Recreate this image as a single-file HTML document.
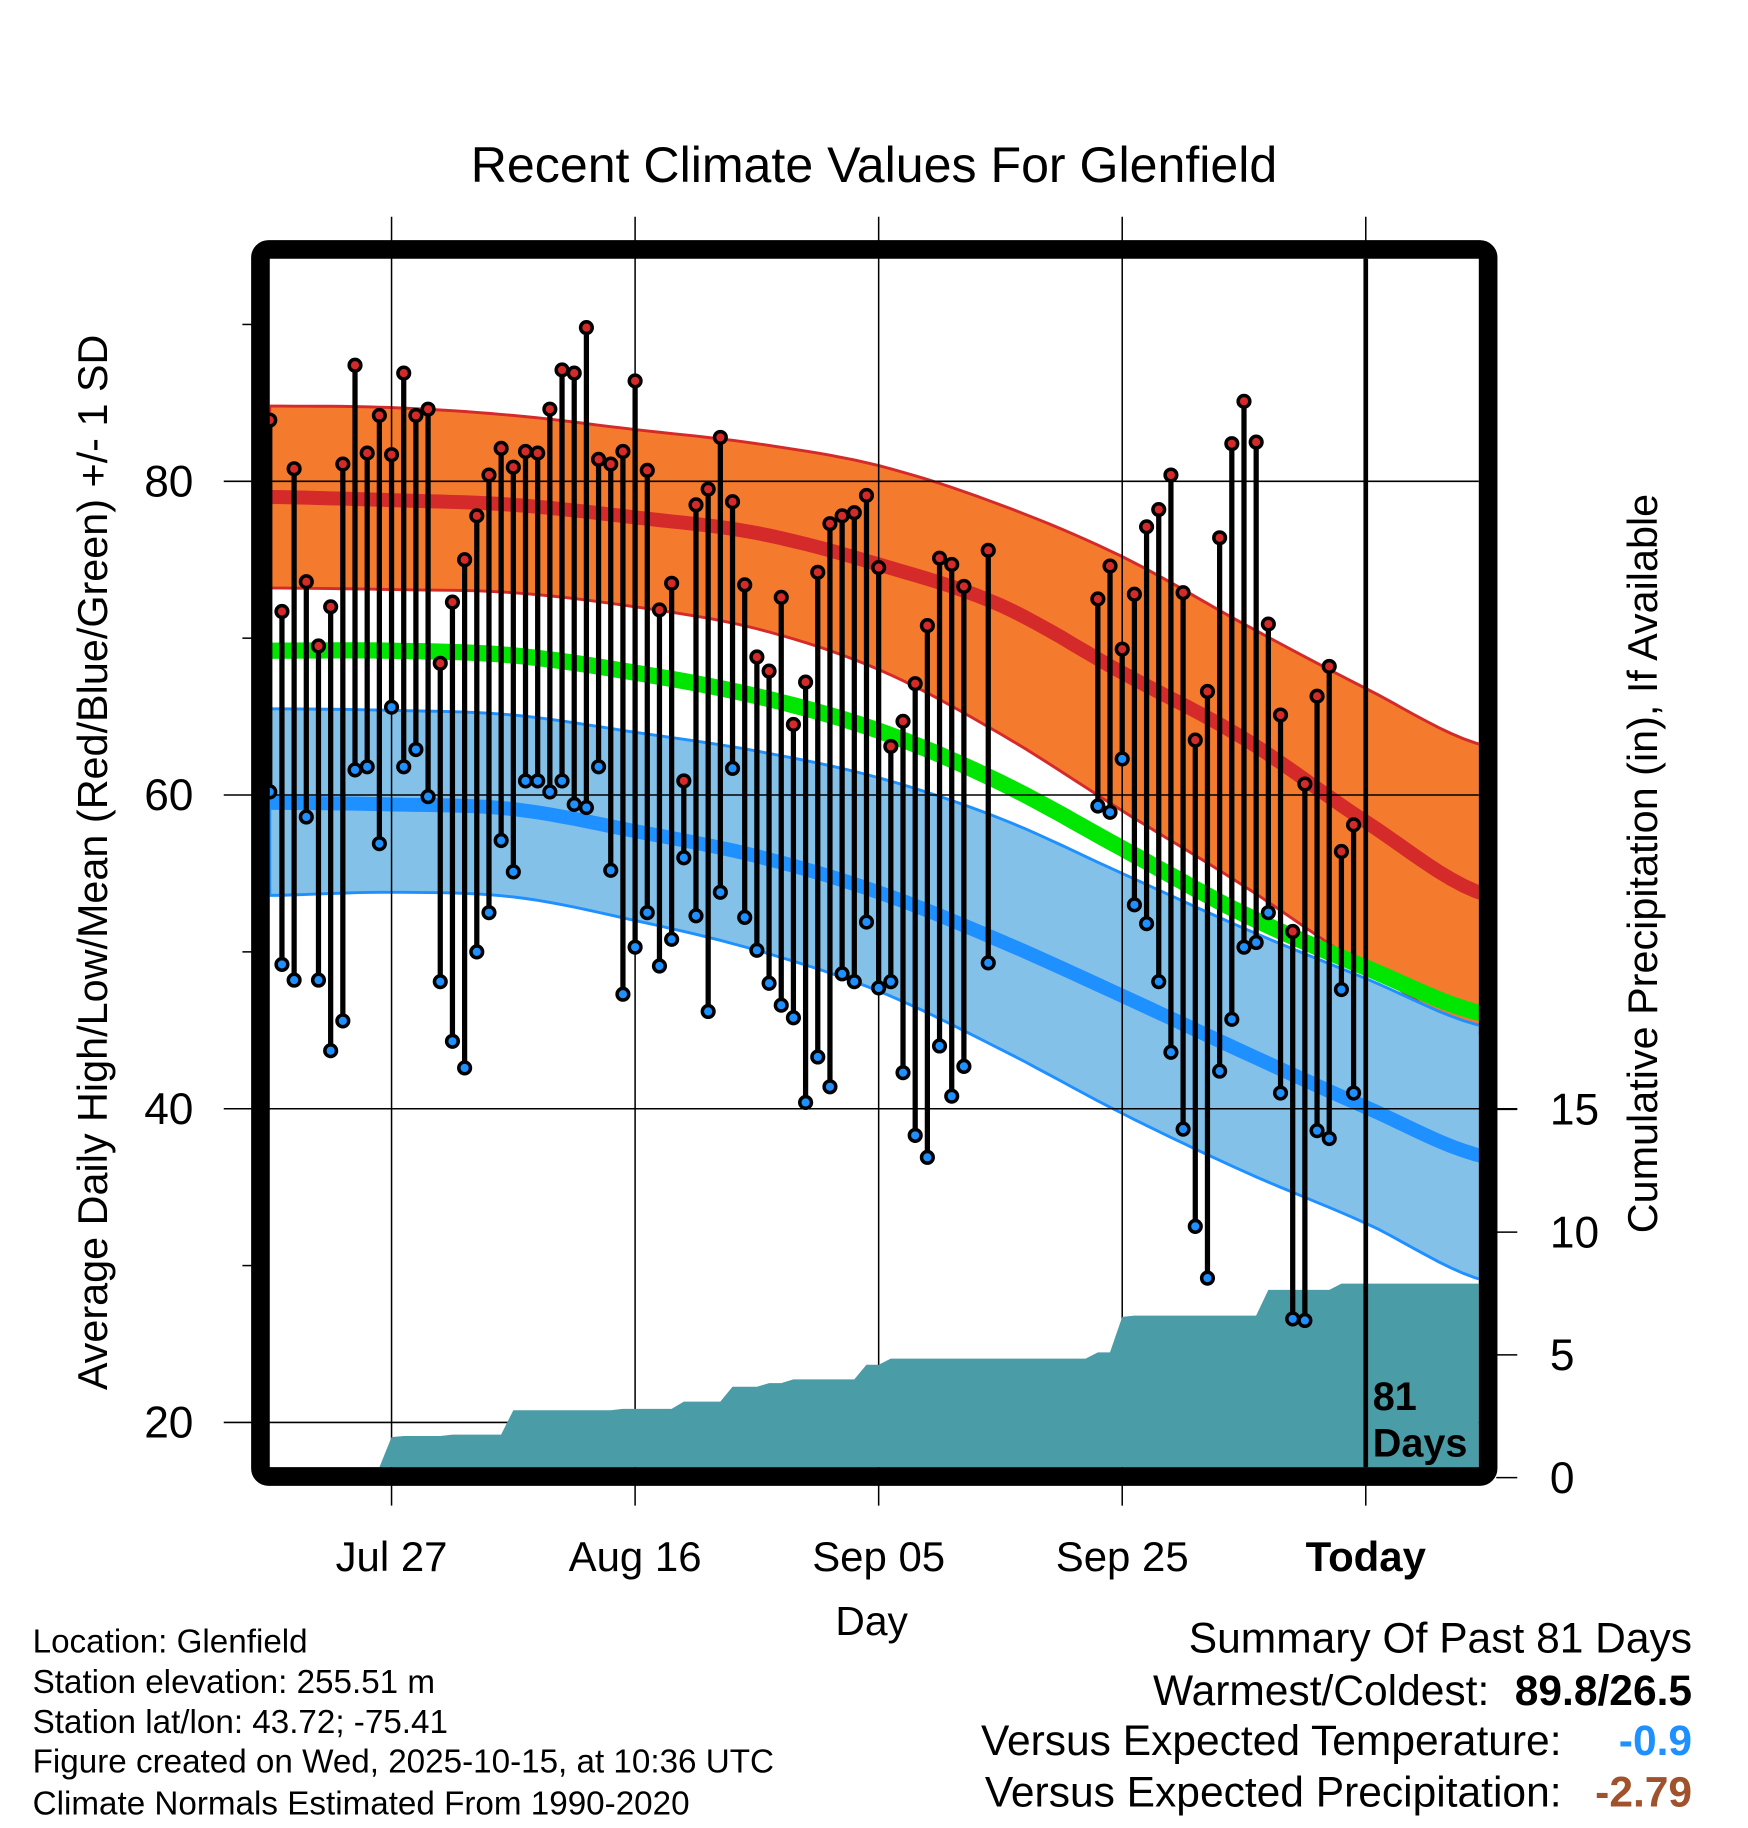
<!DOCTYPE html>
<html><head><meta charset="utf-8"><style>
html,body{margin:0;padding:0;background:#fff;}
svg{display:block;font-family:"Liberation Sans",Arial,sans-serif;}
</style></head><body>
<svg id="chart" xmlns="http://www.w3.org/2000/svg" width="1748" height="1828" viewBox="0 0 1500 1568.6">
<rect x="0" y="0" width="1500" height="1568.6" fill="#fff"/>
<g id="bands"></g>
<g id="grid"></g>
<g id="precip"></g>
<g id="marks"></g>
<rect x="223.5" y="214" width="1053.5" height="1053" rx="7" fill="none" stroke="#000" stroke-width="16"/>
<g id="axes"></g>
<text x="750" y="156" font-size="43" text-anchor="middle">Recent Climate Values For Glenfield</text>
<text transform="translate(92,740) rotate(-90)" font-size="35.5" text-anchor="middle">Average Daily High/Low/Mean (Red/Blue/Green) +/- 1 SD</text>
<text transform="translate(1422,741) rotate(-90)" font-size="35.5" text-anchor="middle">Cumulative Precipitation (in), If Available</text>
<text x="748" y="1403" font-size="35" text-anchor="middle">Day</text>
<text x="1178" y="1210" font-size="34" font-weight="bold">81</text>
<text x="1178" y="1250" font-size="34" font-weight="bold">Days</text>
<g font-size="28.5">
<text x="28" y="1418">Location: Glenfield</text>
<text x="28" y="1453">Station elevation: 255.51 m</text>
<text x="28" y="1487">Station lat/lon: 43.72; -75.41</text>
<text x="28" y="1521">Figure created on Wed, 2025-10-15, at 10:36 UTC</text>
<text x="28" y="1557">Climate Normals Estimated From 1990-2020</text>
</g>
<g font-size="36.5">
<text x="1452" y="1418" text-anchor="end">Summary Of Past 81 Days</text>
<text x="1278" y="1463" text-anchor="end">Warmest/Coldest:</text>
<text x="1452" y="1463" text-anchor="end" font-weight="bold">89.8/26.5</text>
<text x="1340" y="1506" text-anchor="end">Versus Expected Temperature:</text>
<text x="1452" y="1506" text-anchor="end" font-weight="bold" fill="#1e90ff">-0.9</text>
<text x="1340" y="1550" text-anchor="end">Versus Expected Precipitation:</text>
<text x="1452" y="1550" text-anchor="end" font-weight="bold" fill="#a0522d">-2.79</text>
</g>
</svg>
<script>
const highs = [83.9,71.7,80.8,73.6,69.5,72.0,81.1,87.4,81.8,84.2,81.7,86.9,84.2,84.6,68.4,72.3,75.0,77.8,80.4,82.1,80.9,81.9,81.8,84.6,87.1,86.9,89.8,81.4,81.1,81.9,86.4,80.7,71.8,73.5,60.9,78.5,79.5,82.8,78.7,73.4,68.8,67.9,72.6,64.5,67.2,74.2,77.3,77.8,78.0,79.1,74.5,63.1,64.7,67.1,70.8,75.1,74.7,73.3,null,75.6,null,null,null,null,null,null,null,null,72.5,74.6,69.3,72.8,77.1,78.2,80.4,72.9,63.5,66.6,76.4,82.4,85.1,82.5,70.9,65.1,51.3,60.7,66.3,68.2,56.4,58.1];
const lows = [60.2,49.2,48.2,58.6,48.2,43.7,45.6,61.6,61.8,56.9,65.6,61.8,62.9,59.9,48.1,44.3,42.6,50.0,52.5,57.1,55.1,60.9,60.9,60.2,60.9,59.4,59.2,61.8,55.2,47.3,50.3,52.5,49.1,50.8,56.0,52.3,46.2,53.8,61.7,52.2,50.1,48.0,46.6,45.8,40.4,43.3,41.4,48.6,48.1,51.9,47.7,48.1,42.3,38.3,36.9,44.0,40.8,42.7,null,49.3,null,null,null,null,null,null,null,null,59.3,58.9,62.3,53.0,51.8,48.1,43.6,38.7,32.5,29.2,42.4,45.7,50.3,50.6,52.5,41.0,26.6,26.5,38.6,38.1,47.6,41.0];
const precip = [0,0,0,0,0,0,0,0,0,0,1.65,1.7,1.7,1.7,1.7,1.75,1.75,1.75,1.75,1.75,2.75,2.75,2.75,2.75,2.75,2.75,2.75,2.75,2.75,2.8,2.8,2.8,2.8,2.8,3.1,3.1,3.1,3.1,3.7,3.7,3.7,3.85,3.85,4.0,4.0,4.0,4.0,4.0,4.0,4.6,4.6,4.85,4.85,4.85,4.85,4.85,4.85,4.85,4.85,4.85,4.85,4.85,4.85,4.85,4.85,4.85,4.85,4.85,5.1,5.1,6.55,6.6,6.6,6.6,6.6,6.6,6.6,6.6,6.6,6.6,6.6,6.6,7.65,7.65,7.65,7.65,7.65,7.65,7.9,7.9,7.9,7.9,7.9,7.9,7.9,7.9,7.9,7.9,7.9,7.9];
// normals sampled every 10 days (day 0 .. 100)
const normHighUpper = [84.8,84.7,84.2,83.3,82.4,81.0,78.5,75.2,70.9,66.8,63.1];
const normHighMean  = [79.0,78.8,78.5,77.7,76.7,74.7,72.1,67.8,63.6,58.3,53.6];
const normHighLower = [73.2,73.1,72.9,72.0,70.6,68.0,63.9,59.0,54.2,49.0,44.6];
const normMean      = [69.2,69.2,68.9,67.8,66.3,64.1,60.8,56.6,52.4,49.0,46.0];
const normLowUpper  = [65.5,65.4,65.1,64.0,62.8,61.1,58.5,55.0,51.5,48.3,45.2];
const normLowMean   = [59.5,59.4,59.1,57.7,56.1,53.8,50.7,47.2,43.6,40.1,36.9];
const normLowLower  = [53.6,53.8,53.5,52.0,50.1,47.5,43.8,39.7,36.0,32.7,29.0];
const yTicks = [20,40,60,80];
const yMinor = [30,50,70,90];
const pTicks = [0,5,10,15];
const xTickDays = [10,30,50,70,90];
const xTickLabels = ["Jul 27","Aug 16","Sep 05","Sep 25","Today"];
const TODAY = 90;

const NS="http://www.w3.org/2000/svg";
const X0=231.5, DX=10.45, L=231.5, R=1269, T=222, B=1259;
const xs = d => X0 + DX*d;
const ys = v => 413 + (80 - v)*13.46;
const yp = p => 1268 - p*21.07;
function mk(tag, attrs, parent){const e=document.createElementNS(NS,tag);for(const k in attrs)e.setAttribute(k,attrs[k]);parent.appendChild(e);return e;}
// smooth curve sampled daily via Catmull-Rom through 10-day points
function curve(arr){
  const out=[];
  for(let d=0; d<=100; d++){
    const i=Math.min(Math.floor(d/10),arr.length-2), t=(d-i*10)/10;
    const p0=arr[Math.max(i-1,0)], p1=arr[i], p2=arr[i+1], p3=arr[Math.min(i+2,arr.length-1)];
    const t2=t*t, t3=t2*t;
    const v=0.5*((2*p1)+(-p0+p2)*t+(2*p0-5*p1+4*p2-p3)*t2+(-p0+3*p1-3*p2+p3)*t3);
    out.push([xs(d),ys(v)]);
  }
  return out;
}
function ptsStr(p){return p.map(q=>q[0].toFixed(1)+','+q[1].toFixed(1)).join(' ');}
const bands=document.getElementById('bands');
const defs=mk('defs',{},document.getElementById('chart'));
const cp=mk('clipPath',{id:'plotclip'},defs);
mk('rect',{x:L,y:T,width:R-L,height:B-T},cp);
bands.setAttribute('clip-path','url(#plotclip)');
const hu=curve(normHighUpper), hl=curve(normHighLower);
let e=mk('polygon',{points:ptsStr(hu.concat(hl.slice().reverse())),fill:'#f47a2e',stroke:'#d42a2a','stroke-width':2.5},bands);


const lu=curve(normLowUpper), ll=curve(normLowLower);
e=mk('polygon',{points:ptsStr(lu.concat(ll.slice().reverse())),fill:'#84c1e8',stroke:'#1e90ff','stroke-width':2.5},bands);


e=mk('polyline',{points:ptsStr(curve(normMean)),fill:'none',stroke:'#00e600','stroke-width':14},bands);


e=mk('polyline',{points:ptsStr(curve(normHighMean)),fill:'none',stroke:'#d42a2a','stroke-width':12},bands);


e=mk('polyline',{points:ptsStr(curve(normLowMean)),fill:'none',stroke:'#1e90ff','stroke-width':12},bands);



const grid=document.getElementById('grid');
xTickDays.forEach(d=>{
  const g=mk('line',{x1:xs(d),x2:xs(d),y1:186,y2:1292,stroke:'#000','stroke-width':1.3},grid);
  
  
});
yTicks.forEach(v=>{
  const g=mk('line',{x1:192,x2:(v===40?1302:R),y1:ys(v),y2:ys(v),stroke:'#000','stroke-width':1.3},grid);
  
  
});

const pg=document.getElementById('precip');
let pp=[[xs(0),B]];
for(let d=0; d<precip.length; d++){ pp.push([Math.min(xs(d),R), Math.min(yp(precip[d]),B)]); }
pp.push([R,Math.min(yp(precip[precip.length-1]),B)]);
pp.push([R,B]);
e=mk('polygon',{points:ptsStr(pp),fill:'#4a9ca6'},pg);



e=mk('line',{x1:xs(TODAY),x2:xs(TODAY),y1:T,y2:B,stroke:'#000','stroke-width':4},pg);



const mg=document.getElementById('marks');
for(let d=0; d<highs.length; d++){
  if(highs[d]==null) continue;
  const x=xs(d);
  const s=mk('line',{x1:x,x2:x,y1:ys(highs[d]),y2:ys(lows[d]),stroke:'#000','stroke-width':4.5},mg);
  
  
  const h=mk('circle',{cx:x,cy:ys(highs[d]),r:5,fill:'#d42a2a',stroke:'#000','stroke-width':3},mg);
  
  
  const l=mk('circle',{cx:x,cy:ys(lows[d]),r:5,fill:'#1e90ff',stroke:'#000','stroke-width':3},mg);
  
  
}

const ax=document.getElementById('axes');
yTicks.forEach(v=>{
  const t=mk('text',{x:166,y:ys(v)+13,'font-size':38,'text-anchor':'end'},ax);
  t.textContent=v;
  
  
});
yMinor.forEach(v=>{
  const t=mk('line',{x1:208,x2:216,y1:ys(v),y2:ys(v),stroke:'#000','stroke-width':1.3},ax);
  
  
});
pTicks.forEach(p=>{
  const l=mk('line',{x1:1284,x2:1302,y1:yp(p),y2:yp(p),stroke:'#000','stroke-width':1.3},ax);
  
  
  const t=mk('text',{x:1330,y:yp(p)+13,'font-size':38},ax);
  t.textContent=p;
  
  
});
xTickDays.forEach((d,i)=>{
  const t=mk('text',{x:xs(d),y:1348,'font-size':36,'text-anchor':'middle'},ax);
  if(xTickLabels[i]==='Today') t.setAttribute('font-weight','bold');
  t.textContent=xTickLabels[i];
  
  
});
</script>
</body></html>
